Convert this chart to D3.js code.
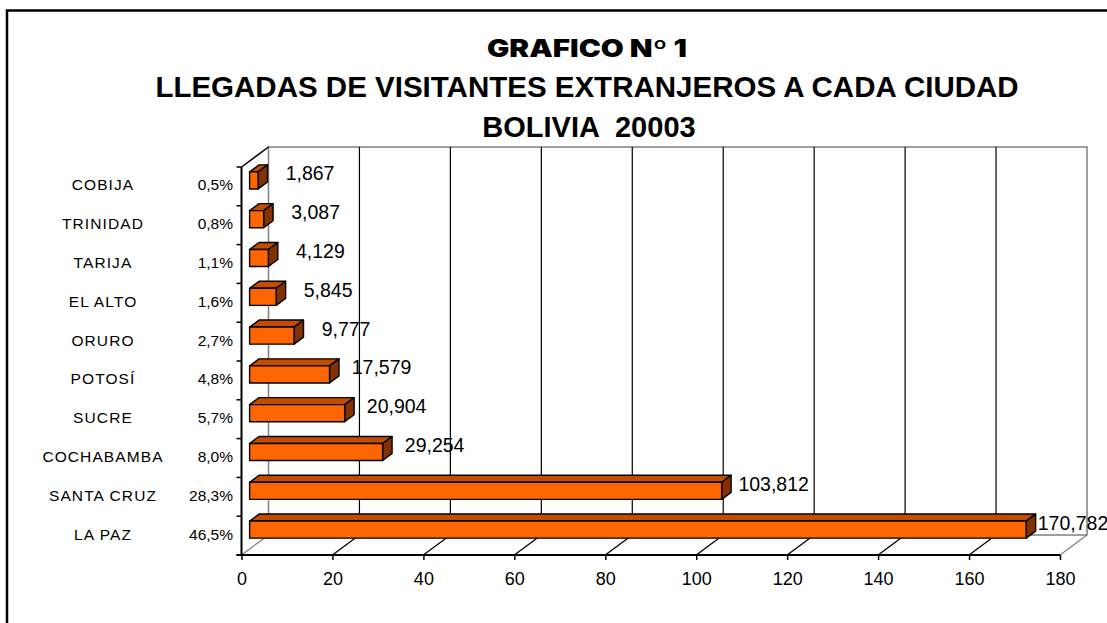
<!DOCTYPE html>
<html>
<head>
<meta charset="utf-8">
<script src="https://cdn.jsdelivr.net/npm/d3@7"></script>
<style>
    body { margin: 0; background: #fff; }
    text { font-family: "Liberation Sans", Arial, sans-serif; fill: #000; }
</style>
</head>
<body>
<svg id="chart"></svg>
<script>
// data
let categories = ["COBIJA", "TRINIDAD", "TARIJA", "EL ALTO", "ORURO", "POTOSÍ", "SUCRE", "COCHABAMBA", "SANTA CRUZ", "LA PAZ"];
let shares = ["0,5%", "0,8%", "1,1%", "1,6%", "2,7%", "4,8%", "5,7%", "8,0%", "28,3%", "46,5%"];
let visitors = [1867, 3087, 4129, 5845, 9777, 17579, 20904, 29254, 103812, 170782];
let xTicks = [0, 20, 40, 60, 80, 100, 120, 140, 160, 180];
let titleLines = ["GRAFICO Nº 1", "LLEGADAS DE VISITANTES EXTRANJEROS A CADA CIUDAD", "BOLIVIA  20003"];

let width = 1107, height = 623;
let depth = {dx: 27, dy: -20};
let barZ = [0.3, 0.65];

let svg = d3.select("#chart")
    .attr("width", width)
    .attr("height", height);

// frame
svg.append("path")
    .attr("d", "M7,623 V10.5 H1107")
    .attr("fill", "none")
    .attr("stroke", "#000")
    .attr("stroke-width", 2.5);

// titles
svg.append("text")
    .attr("x", 587).attr("y", 57)
    .attr("text-anchor", "middle")
    .attr("textLength", 200)
    .attr("lengthAdjust", "spacingAndGlyphs")
    .style("font-family", "'Arial Black', Inter, 'DejaVu Sans', sans-serif")
    .style("font-weight", 900)
    .style("font-size", "24px")
    .text(titleLines[0]);
svg.append("text")
    .attr("x", 587).attr("y", 97)
    .attr("text-anchor", "middle")
    .style("font-weight", "bold")
    .style("font-size", "29.5px")
    .text(titleLines[1]);
svg.append("text")
    .attr("x", 589).attr("y", 137)
    .attr("text-anchor", "middle")
    .style("font-weight", "bold")
    .style("font-size", "29px")
    .style("white-space", "pre")
    .text(titleLines[2]);

// scales
let xScale = d3.scaleLinear()
    .domain([0, 180])
    .range([241.5, 1060]);
let yScale = d3.scaleBand()
    .domain(categories)
    .range([167, 555]);

let x0 = xScale(0), x1 = xScale(180);
let yTop = yScale.range()[0], yBot = yScale.range()[1];
let P = (x, y, z) => [x + depth.dx * z, y + depth.dy * z];
let poly = pts => "M" + pts.map(p => p.join(",")).join("L") + "Z";

// back wall
let wall = svg.append("g");
wall.append("path")
    .attr("d", poly([P(x0, yTop, 1), P(x1, yTop, 1), P(x1, yBot, 1), P(x0, yBot, 1)]))
    .attr("fill", "#fff")
    .attr("stroke", "#808080")
    .attr("stroke-width", 1.5);
wall.selectAll(".grid")
    .data(xTicks.filter(t => t > 0 && t < 180))
    .enter()
    .append("line")
    .attr("x1", d => P(xScale(d), yTop, 1)[0])
    .attr("x2", d => P(xScale(d), yBot, 1)[0])
    .attr("y1", P(0, yTop, 1)[1])
    .attr("y2", P(0, yBot, 1)[1])
    .attr("stroke", "#000")
    .attr("stroke-width", 1.2);

// floor diagonals
wall.selectAll(".floor")
    .data(xTicks)
    .enter()
    .append("line")
    .attr("x1", d => xScale(d))
    .attr("y1", yBot)
    .attr("x2", d => P(xScale(d), yBot, 1)[0])
    .attr("y2", P(0, yBot, 1)[1])
    .attr("stroke", d => (d === 0 || d === 180) ? "#808080" : "#000")
    .attr("stroke-width", 1.3);
// left wall top edge
wall.append("line")
    .attr("x1", x0).attr("y1", yTop)
    .attr("x2", P(x0, yTop, 1)[0]).attr("y2", P(x0, yTop, 1)[1])
    .attr("stroke", "#000")
    .attr("stroke-width", 1.5);

// bars
let barH = yScale.bandwidth() * 0.44;
let bars = svg.append("g")
    .selectAll(".bar")
    .data(categories.map((c, i) => ({cat: c, value: visitors[i] / 1000})))
    .enter()
    .append("g");

bars.each(function (d) {
    let g = d3.select(this);
    let yc = yScale(d.cat) + yScale.bandwidth() / 2;
    let t = yc - barH / 2, b = yc + barH / 2;
    let xe = xScale(d.value);
    let ftl = P(x0, t, barZ[0]), ftr = P(xe, t, barZ[0]), fbr = P(xe, b, barZ[0]), fbl = P(x0, b, barZ[0]);
    let btl = P(x0, t, barZ[1]), btr = P(xe, t, barZ[1]), bbr = P(xe, b, barZ[1]);
    g.append("path").attr("d", poly([ftl, ftr, btr, btl])).attr("fill", "#c24d00");
    g.append("path").attr("d", poly([ftr, btr, bbr, fbr])).attr("fill", "#843100");
    g.append("path").attr("d", poly([ftl, ftr, fbr, fbl])).attr("fill", "#ff6600");
    g.selectAll("path")
        .attr("stroke", "#000")
        .attr("stroke-width", 1.4)
        .attr("stroke-linejoin", "round");
});

// value labels
let fmt = d3.format(",");
svg.append("g")
    .selectAll("text")
    .data(categories)
    .enter()
    .append("text")
    .attr("x", (c, i) => Math.min(xScale(visitors[i] / 1000) + depth.dx * barZ[0] + 52, width - 34))
    .attr("y", c => yScale(c) + yScale.bandwidth() / 2 - 6)
    .attr("text-anchor", "middle")
    .style("font-size", "19.5px")
    .text((c, i) => fmt(visitors[i]));

// x axis
let xAx = d3.axisBottom(xScale)
    .tickValues(xTicks)
    .tickSize(5)
    .tickSizeOuter(0)
    .tickPadding(12);
let xg = svg.append("g")
    .attr("transform", `translate(0,${yBot})`)
    .call(xAx);
xg.select(".domain").remove();
xg.selectAll(".tick line").attr("stroke", "#000").attr("stroke-width", 1.5);
xg.selectAll(".tick text")
    .style("font-family", "'Liberation Sans', Arial, sans-serif")
    .style("font-size", "18px")
    .attr("fill", "#000");
svg.append("line")
    .attr("x1", x0 - 5).attr("x2", x1)
    .attr("y1", yBot).attr("y2", yBot)
    .attr("stroke", "#000").attr("stroke-width", 2);

// y axis
let edges = categories.map(c => yScale(c)).concat([yBot]);
svg.append("line")
    .attr("x1", x0).attr("x2", x0)
    .attr("y1", yTop).attr("y2", yBot)
    .attr("stroke", "#000").attr("stroke-width", 2);
svg.append("g")
    .selectAll("line")
    .data(edges)
    .enter()
    .append("line")
    .attr("x1", x0 - 5).attr("x2", x0)
    .attr("y1", d => d).attr("y2", d => d)
    .attr("stroke", "#000").attr("stroke-width", 1.5);

// category labels
let labels = svg.append("g")
    .selectAll("g")
    .data(categories)
    .enter()
    .append("g");
labels.append("text")
    .attr("x", 103)
    .attr("y", c => yScale(c) + yScale.bandwidth() / 2 + 4)
    .attr("text-anchor", "middle")
    .style("font-size", "15.5px")
    .style("letter-spacing", "1.1px")
    .text(c => c);
labels.append("text")
    .attr("x", 233)
    .attr("y", c => yScale(c) + yScale.bandwidth() / 2 + 4)
    .attr("text-anchor", "end")
    .style("font-size", "15.5px")
    .text((c, i) => shares[i]);
</script>
</body>
</html>
